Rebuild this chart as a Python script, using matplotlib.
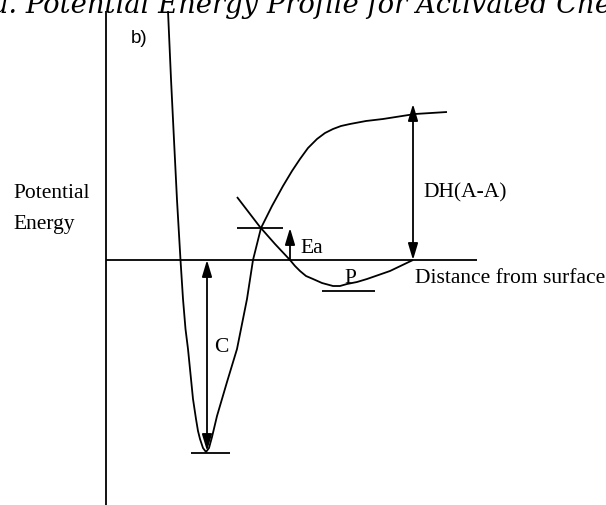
import numpy as np
import matplotlib
matplotlib.use("Agg")
import matplotlib.pyplot as plt

STYLE = {
    "serif": "Liberation Serif",
    "sans": "Liberation Sans",
    "label_size": 15.5,
    "line_width": 1.3,
}

# chemisorption curve: steep repulsive wall, deep well C, rise to the dissociation plateau
chem_x = [62, 65, 68, 71, 74.5, 77, 79.5, 82, 85, 87, 90, 92, 94, 97, 100, 103, 106,
          111, 121, 131, 141, 147, 155, 166, 177, 186, 194, 202, 211, 219, 227, 235,
          244, 260, 277, 309, 341]
chem_y = [249, 181, 120, 60, 0, -39, -69, -89, -119, -139, -159, -171, -179, -188,
          -192, -188, -177, -156, -122, -89, -39, 0, 32, 54, 74, 89, 101, 112, 121,
          127, 131, 134, 136, 139, 141, 146, 148]

# physisorption curve: shallow well P, meets the zero line at the surface distance
phys_x = [131, 154, 169, 184, 189, 194, 200, 207, 216, 227, 234, 241, 251, 261, 284, 307]
phys_y = [63, 33, 16, 0, -6, -11, -16, -19, -23, -26, -26, -24, -22, -19, -11, 0]

zero_line = [0, 371]
energy_axis = [-245, 249]

well_C = -191          # depth of the chemisorption well
barrier_Ea = 32        # height of the crossing point above zero
dissoc_DH = 156        # top of the DH(A-A) arrow
well_P = -31           # bottom of the physisorption well

fig = plt.figure(figsize=(6.06, 5.06), dpi=100)
ax = fig.add_axes([0, 0, 1, 1])
ax.set_xlim(-106, 500)
ax.set_ylim(-245, 261)
ax.axis("off")

lw = STYLE["line_width"]
k = dict(color="black", lw=lw, solid_capstyle="butt", solid_joinstyle="round")

ax.plot([0, 0], energy_axis, **k)
ax.plot(zero_line, [0, 0], **k)
ax.plot(chem_x, chem_y, **k)
ax.plot(phys_x, phys_y, **k)

# short level marks
ax.plot([85, 124], [well_C - 2, well_C - 2], **k)
ax.plot([131, 177], [barrier_Ea, barrier_Ea], **k)
ax.plot([216, 269], [well_P, well_P], **k)

def arrow(x, y0, y1, both=False):
    style = "<|-|>" if both else "-|>"
    ax.annotate("", xy=(x, y1), xytext=(x, y0),
                arrowprops=dict(arrowstyle=f"{style},head_length=0.5,head_width=0.15",
                                mutation_scale=20, color="black", lw=lw,
                                shrinkA=0, shrinkB=0))

arrow(101, 0, well_C, both=True)
arrow(184, 0, barrier_Ea)
arrow(307, 0, dissoc_DH, both=True)

serif = dict(family=STYLE["serif"], size=STYLE["label_size"], color="black")
ax.text(-93, 63, "Potential", ha="left", va="baseline", **serif)
ax.text(-93, 32, "Energy", ha="left", va="baseline", **serif)
ax.text(115, -87, "C", ha="center", va="center", **serif)
ax.text(194, 8, "Ea", ha="left", va="baseline", **serif)
ax.text(244, -22, "P", ha="center", va="baseline", **serif)
ax.text(317, 68, "DH(A-A)", ha="left", va="center", **serif)
ax.text(309, -22, "Distance from surface", ha="left", va="baseline", **serif)
ax.text(33, 223, "b)", ha="center", va="center", family=STYLE["sans"], size=13.5)

# panel title, running off the top edge
ax.text(-114, 248, "a. Potential Energy Profile for Activated Chemisorption",
        ha="left", va="baseline", family="DejaVu Serif", style="italic", size=19.7)

fig.savefig("out.png", dpi=100)
